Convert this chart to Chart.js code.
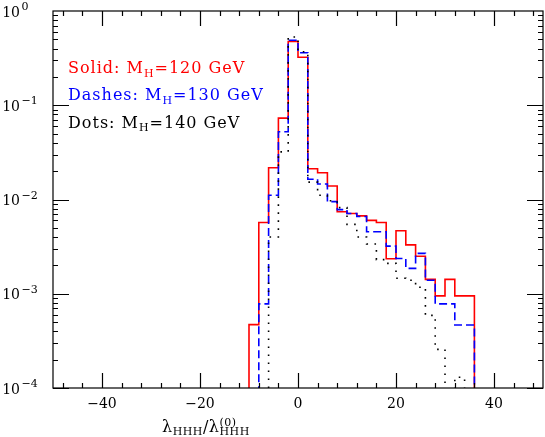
<!DOCTYPE html>
<html>
<head>
<meta charset="utf-8">
<script src="https://cdn.jsdelivr.net/npm/chart.js@4.4.0/dist/chart.umd.min.js"></script>
<style>
  html, body { margin: 0; padding: 0; background: #fff; }
</style>
</head>
<body>
<canvas id="histChart" width="545" height="437"></canvas>
<script>
// bin edges of lambda_HHH / lambda_HHH^(0), width 2
var binEdges = [-10, -8, -6, -4, -2, 0, 2, 4, 6, 8, 10, 12, 14, 16, 18, 20, 22, 24, 26, 28, 30, 32, 34, 36];

// normalised distributions per bin, 0 = empty bin (below 1e-4)
var mh120 = [0.00047, 0.0057, 0.0217, 0.073, 0.475, 0.323, 0.0212, 0.0192, 0.0139, 0.0074, 0.0071, 0.0067,
             0.0060, 0.0057, 0.00235, 0.00466, 0.0033, 0.0025, 0.00142, 0.00095, 0.00142, 0.00095, 0.00095];
var mh130 = [0, 0.00078, 0.0111, 0.0523, 0.49, 0.36, 0.0164, 0.0146, 0.0095, 0.0078, 0.0071, 0.0066,
             0.00455, 0.00455, 0.0032, 0.00237, 0.00186, 0.00268, 0.00139, 0.00078, 0.00078, 0.000466, 0.000466];
var mh140 = [0, 0, 0.0040, 0.032, 0.53, 0.37, 0.0153, 0.0111, 0.0097, 0.0082, 0.00545, 0.0040,
             0.00337, 0.0023, 0.0021, 0.00146, 0.00139, 0.00117, 0.00059, 0.000257, 0, 0.00013, 0];

var xTickValues = [-40, -20, 0, 20, 40];
var xTickLabels = ['\u221240', '\u221220', '0', '20', '40'];
var yTickValues = [1e-4, 1e-3, 1e-2, 1e-1, 1];
var yTickPowers = ['\u22124', '\u22123', '\u22122', '\u22121', '0'];

var FONT = '"DejaVu Serif"';

// histogram -> points for a stepped line
function buildSteps(vals) {
	var floor = 1e-6;
	var pts = [];
	var n = vals.length;
	pts.push({ x: binEdges[0], y: floor });
	for (var i = 0; i < n; i++) {
		pts.push({ x: binEdges[i], y: vals[i] > 0 ? vals[i] : floor });
	}
	pts.push({ x: binEdges[n], y: vals[n - 1] > 0 ? vals[n - 1] : floor });
	pts.push({ x: binEdges[n], y: floor });
	return pts;
}

// text made of pieces written one after the other (sub/superscripts shifted by dy)
function drawFlow(ctx, x, y, color, spacing, parts) {
	ctx.fillStyle = color;
	ctx.textAlign = 'left';
	ctx.textBaseline = 'alphabetic';
	ctx.letterSpacing = spacing + 'px';
	parts.forEach(function(p) {
		ctx.font = p.size + 'px ' + FONT;
		ctx.fillText(p.text, x, y + (p.dy || 0));
		if (!p.stay) x += ctx.measureText(p.text).width + (p.gap || 0);
	});
	ctx.letterSpacing = '0px';
}

var frameAndLabels = {
	id: 'frameAndLabels',
	afterDraw: function(chart) {
		var ctx = chart.ctx;
		var xs = chart.scales.x;
		var ys = chart.scales.y;
		var a = chart.chartArea;
		ctx.save();
		ctx.strokeStyle = '#000';
		ctx.lineWidth = 1.2;
		ctx.strokeRect(a.left, a.top, a.right - a.left, a.bottom - a.top);

		// ticks, pointing inwards on all four sides
		ctx.beginPath();
		for (var v = -48; v <= 48; v += 4) {
			var px = Math.round(xs.getPixelForValue(v)) + 0.5;
			var len = (v % 20 === 0) ? 15 : 5;
			ctx.moveTo(px, a.bottom); ctx.lineTo(px, a.bottom - len);
			ctx.moveTo(px, a.top); ctx.lineTo(px, a.top + len);
		}
		for (var d = -4; d < 0; d++) {
			for (var m = 1; m < 10; m++) {
				var py = Math.round(ys.getPixelForValue(m * Math.pow(10, d))) + 0.5;
				var l = (m === 1) ? 16 : 5;
				ctx.moveTo(a.left, py); ctx.lineTo(a.left + l, py);
				ctx.moveTo(a.right, py); ctx.lineTo(a.right - l, py);
			}
		}
		ctx.stroke();

		// x tick labels
		ctx.fillStyle = '#000';
		ctx.font = '14px ' + FONT;
		ctx.textAlign = 'center';
		ctx.textBaseline = 'alphabetic';
		for (var i = 0; i < xTickValues.length; i++) {
			ctx.fillText(xTickLabels[i], xs.getPixelForValue(xTickValues[i]), 408);
		}

		// y tick labels 10^n
		for (var j = 0; j < yTickValues.length; j++) {
			var ty = ys.getPixelForValue(yTickValues[j]);
			ctx.font = '14px ' + FONT;
			ctx.textAlign = 'right';
			ctx.fillText('10', 20, ty + 5.5);
			ctx.font = '11px ' + FONT;
			ctx.textAlign = 'left';
			ctx.fillText(yTickPowers[j], 21.5, ty - 1);
		}

		// axis title
		drawFlow(ctx, 162, 432, '#000', 0.5, [
			{ text: '\u03bb', size: 16 },
			{ text: 'HHH', size: 11, dy: 3 },
			{ text: '/', size: 16 },
			{ text: '\u03bb', size: 16 },
			{ text: '(0)', size: 11, dy: -6, stay: true },
			{ text: 'HHH', size: 11, dy: 3 }
		]);

		// curve labels
		var labels = [
			['Solid: M', '=120 GeV', 'rgb(255,0,0)', 73],
			['Dashes: M', '=130 GeV', 'rgb(0,0,255)', 100],
			['Dots: M', '=140 GeV', '#000', 127.5]
		];
		labels.forEach(function(t) {
			drawFlow(ctx, 68, t[3], t[2], 1, [
				{ text: t[0], size: 16 },
				{ text: 'H', size: 11, dy: 3.5 },
				{ text: t[1], size: 16 }
			]);
		});
		ctx.restore();
	}
};

var lambdaChart = new Chart(document.getElementById('histChart'), {
	type: 'line',
	data: {
		datasets: [ {
			label: 'M_H=120 GeV',
			data: buildSteps(mh120),
			borderColor: 'rgb(255,0,0)',
			borderWidth: 1.6,
			stepped: 'before',
			pointRadius: 0,
			fill: false,
			order: 2
		}, {
			label: 'M_H=130 GeV',
			data: buildSteps(mh130),
			borderColor: 'rgb(0,0,255)',
			borderWidth: 1.6,
			borderDash: [8, 4],
			stepped: 'before',
			pointRadius: 0,
			fill: false,
			order: 1
		}, {
			label: 'M_H=140 GeV',
			data: buildSteps(mh140),
			borderColor: '#000',
			borderWidth: 1.6,
			borderDash: [1.6, 6.4],
			stepped: 'before',
			pointRadius: 0,
			fill: false,
			order: 0
		} ]
	},
	options: {
		responsive: false,
		animation: false,
		events: [],
		layout: {
			padding: { left: 53, right: 2, top: 11, bottom: 49 }
		},
		scales: {
			x: { type: 'linear', min: -50, max: 50, display: false },
			y: { type: 'logarithmic', min: 1e-4, max: 1, display: false }
		},
		plugins: {
			legend: { display: false },
			tooltip: { enabled: false }
		}
	},
	plugins: [ frameAndLabels ]
});
</script>
</body>
</html>
